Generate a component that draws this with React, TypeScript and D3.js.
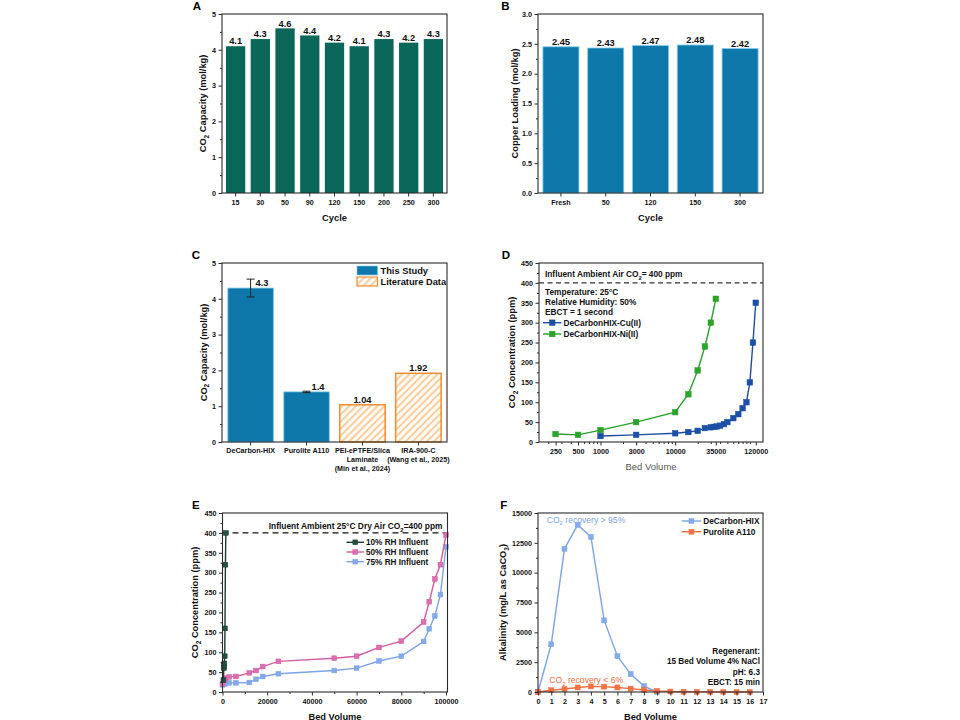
import * as d3 from 'd3';
import { useEffect, useRef } from 'react';

const FONT = '"Liberation Sans", Arial, Helvetica, sans-serif';
const PLOT_W = 225;
const PLOT_H = 179;
const AXIS = '#2b2b2b';

// ---- A: capacity over cycles ----
const cyclesA = ['15', '30', '50', '90', '120', '150', '200', '250', '300'];
const capacityA = [4.1, 4.3, 4.6, 4.4, 4.2, 4.1, 4.3, 4.2, 4.3];

// ---- B: copper loading ----
const cyclesB = ['Fresh', '50', '120', '150', '300'];
const copperB = [2.45, 2.43, 2.47, 2.48, 2.42];

// ---- C: sorbent comparison ----
const sorbentsC = ['DeCarbon-HIX', 'Purolite A110', 'PEI-ePTFE/Slica Laminate', 'IRA-900-C'];
const sorbentLinesC = [
    ['DeCarbon-HIX'],
    ['Purolite A110'],
    ['PEI-ePTFE/Slica', 'Laminate', '(Min et al., 2024)'],
    ['IRA-900-C', '(Wang et al., 2025)'],
];
const capacityC = [4.3, 1.4, 1.04, 1.92];
const labelC = ['4.3', '1.4', '1.04', '1.92'];
const errorC = [0.25, 0.02, 0, 0];
const isStudyC = [true, true, false, false];

// ---- D: breakthrough, Cu vs Ni ----
const bvCu = [1000, 3000, 10000, 15000, 20000, 25000, 30000, 33000, 36000, 40000, 45000, 50000, 60000, 70000, 80000, 90000, 100000, 110000, 120000];
const co2Cu = [15, 18, 22, 25, 28, 35, 37, 38, 39, 41, 45, 50, 60, 70, 85, 100, 150, 250, 350];
const bvNi = [250, 500, 1000, 3000, 10000, 15000, 20000, 25000, 30000, 35000];
const co2Ni = [20, 18, 30, 50, 75, 120, 180, 240, 300, 360];
const xTicksD = [250, 500, 1000, 3000, 10000, 35000, 120000];

// ---- E: humidity effect ----
const bv10 = [400, 600, 700, 800, 1000, 1100, 1300, 1500];
const co2RH10 = [30, 60, 65, 72, 90, 160, 320, 400];
const bv50 = [0, 1000, 1500, 3000, 6000, 12000, 15000, 18000, 25000, 50000, 60000, 70000, 80000, 90000, 92500, 95000, 97500, 100000];
const co2RH50 = [20, 30, 35, 38, 39, 48, 54, 64, 77, 85, 90, 112, 128, 176, 227, 284, 320, 395];
const bv75 = [0, 1000, 3000, 6000, 12000, 15000, 18000, 25000, 50000, 60000, 70000, 80000, 90000, 92500, 95000, 97500, 100000];
const co2RH75 = [18, 20, 23, 23, 24, 32, 39, 46, 54, 60, 78, 90, 127, 159, 191, 245, 365];

// ---- F: regeneration ----
const bvHix = [0, 1, 2, 3, 4, 5, 6, 7, 8, 9];
const alkHix = [0, 4000, 12000, 14000, 13000, 6000, 3000, 1500, 500, 0];
const bvA110 = [0, 1, 2, 3, 4, 5, 6, 7, 8, 9, 10, 11, 12, 13, 14, 15, 16];
const alkA110 = [0, 150, 250, 380, 470, 450, 380, 280, 170, 90, 40, 20, 10, 10, 0, 0, 0];

type Sel = d3.Selection<any, unknown, null, undefined>;
type Part = [string, boolean?];

// append text runs, with optional subscripts
const rich = (t: Sel, parts: Part[], fs: number) => {
    let shifted = false;
    parts.forEach(([s, sub]) => {
        const ts = t.append('tspan').text(s);
        if (sub) {
            ts.attr('font-size', fs * 0.7).attr('dy', fs * 0.3);
            shifted = true;
        } else if (shifted) {
            ts.attr('dy', -fs * 0.3);
            shifted = false;
        }
    });
    return t;
};

const label = (
    parent: Sel,
    x: number,
    y: number,
    parts: Part[] | string,
    fs: number,
    opts: { weight?: string; fill?: string; anchor?: string } = {}
) => {
    const t = parent
        .append('text')
        .attr('x', x)
        .attr('y', y)
        .attr('font-size', fs)
        .attr('font-weight', opts.weight ?? 'bold')
        .attr('fill', opts.fill ?? '#111')
        .attr('text-anchor', opts.anchor ?? 'start');
    return rich(t, typeof parts === 'string' ? [[parts]] : parts, fs);
};

const yTitle = (g: Sel, x: number, parts: Part[] | string, fs = 9.3) => {
    const t = g
        .append('text')
        .attr('transform', `translate(${x},${PLOT_H / 2}) rotate(-90)`)
        .attr('dy', '0.35em')
        .attr('text-anchor', 'middle')
        .attr('font-size', fs)
        .attr('font-weight', 'bold')
        .attr('fill', '#111');
    rich(t, typeof parts === 'string' ? [[parts]] : parts, fs);
};

const styleAxis = (ax: Sel) => {
    ax.attr('font-family', FONT);
    ax.select('.domain').remove();
    ax.selectAll('line').attr('stroke', AXIS);
    ax.selectAll('text').attr('font-size', 7.2).attr('font-weight', 'bold').attr('fill', '#111');
};

const leftAxis = (g: Sel, y: any, major: number[], minor: number[], fmt: (d: any) => string) => {
    g.append('g')
        .call(d3.axisLeft(y).tickValues(major).tickSize(3.5).tickPadding(2.5).tickFormat(fmt))
        .call(styleAxis);
    g.append('g')
        .call(d3.axisLeft(y).tickValues(minor).tickSize(2).tickFormat(() => ''))
        .call(styleAxis);
};

const bottomAxis = (g: Sel, x: any, major: any[] | null, minor: number[], fmt?: (d: any) => string) => {
    const ax = d3.axisBottom(x).tickSize(3.5).tickPadding(3);
    if (major) ax.tickValues(major);
    if (fmt) ax.tickFormat(fmt);
    g.append('g').attr('transform', `translate(0,${PLOT_H})`).call(ax).call(styleAxis);
    if (minor.length) {
        g.append('g')
            .attr('transform', `translate(0,${PLOT_H})`)
            .call(d3.axisBottom(x).tickValues(minor).tickSize(2).tickFormat(() => ''))
            .call(styleAxis);
    }
};

const frame = (g: Sel) => {
    g.append('rect')
        .attr('width', PLOT_W)
        .attr('height', PLOT_H)
        .attr('fill', 'none')
        .attr('stroke', AXIS)
        .attr('stroke-width', 1.1);
};

const series = (g: Sel, xs: number[], ys: number[], x: any, y: any, color: string, fill: string, size: number) => {
    const pts: [number, number][] = xs.map((v, i) => [x(v), y(ys[i])]);
    g.append('path')
        .attr('d', d3.line()(pts))
        .attr('fill', 'none')
        .attr('stroke', color)
        .attr('stroke-width', 1.4);
    g.append('g')
        .selectAll('rect')
        .data(pts)
        .join('rect')
        .attr('x', (d) => d[0] - size / 2)
        .attr('y', (d) => d[1] - size / 2)
        .attr('width', size)
        .attr('height', size)
        .attr('fill', fill)
        .attr('stroke', color)
        .attr('stroke-width', 0.5);
};

const legendEntry = (
    g: Sel,
    x1: number,
    x2: number,
    yc: number,
    color: string,
    fill: string,
    size: number,
    text: string,
    fs: number
) => {
    g.append('line').attr('x1', x1).attr('x2', x2).attr('y1', yc).attr('y2', yc).attr('stroke', color).attr('stroke-width', 1.4);
    g.append('rect')
        .attr('x', (x1 + x2) / 2 - size / 2)
        .attr('y', yc - size / 2)
        .attr('width', size)
        .attr('height', size)
        .attr('fill', fill)
        .attr('stroke', color)
        .attr('stroke-width', 0.5);
    label(g, x2 + 2, yc + fs * 0.36, text, fs);
};

const CO2: Part[] = [['CO'], ['2', true]];

const App = () => {
    const svgRef = useRef<SVGSVGElement | null>(null);

    useEffect(() => {
        if (!svgRef.current) return;
        const svg = d3.select(svgRef.current);
        svg.selectAll('*').remove();
        svg.attr('font-family', FONT);
        svg.append('rect').attr('width', 960).attr('height', 720).attr('fill', '#fff');

        const defs = svg.append('defs');
        const pat = defs
            .append('pattern')
            .attr('id', 'hatch')
            .attr('patternUnits', 'userSpaceOnUse')
            .attr('width', 5)
            .attr('height', 5)
            .attr('patternTransform', 'rotate(45)');
        pat.append('rect').attr('width', 5).attr('height', 5).attr('fill', '#fffaf2');
        pat.append('line').attr('x1', 1).attr('x2', 1).attr('y1', 0).attr('y2', 5).attr('stroke', '#f4b878').attr('stroke-width', 1.3);

        // panel letters
        const letters: [string, number, number][] = [
            ['A', 196.8, 9.5],
            ['B', 505.5, 9.5],
            ['C', 195.8, 258.5],
            ['D', 506, 259],
            ['E', 195.8, 508.5],
            ['F', 503.7, 508.5],
        ];
        letters.forEach(([s, x, y]) => label(svg, x, y, s, 11.5, { anchor: 'middle', fill: '#000' }));

        // ===== A =====
        {
            const g = svg.append('g').attr('transform', 'translate(222,14)');
            const x = d3.scaleBand().domain(cyclesA).range([0, PLOT_W]).paddingInner(0.22).paddingOuter(0.16);
            const y = d3.scaleLinear().domain([0, 5]).range([PLOT_H, 0]);
            g.selectAll('.bar')
                .data(capacityA)
                .join('rect')
                .attr('x', (_, i) => x(cyclesA[i])!)
                .attr('y', (d) => y(d))
                .attr('width', x.bandwidth())
                .attr('height', (d) => PLOT_H - y(d))
                .attr('fill', '#0c675b');
            capacityA.forEach((v, i) =>
                label(g, x(cyclesA[i])! + x.bandwidth() / 2, y(v) - 1.8, v.toFixed(1), 9.3, { anchor: 'middle' })
            );
            frame(g);
            leftAxis(g, y, [0, 1, 2, 3, 4, 5], [0.5, 1.5, 2.5, 3.5, 4.5], (d) => String(d));
            bottomAxis(g, x, null, []);
            label(g, PLOT_W / 2, PLOT_H + 28, 'Cycle', 9.3, { anchor: 'middle' });
            yTitle(g, -19, [['CO'], ['2', true], [' Capacity (mol/kg)']]);
        }

        // ===== B =====
        {
            const g = svg.append('g').attr('transform', 'translate(538,14)');
            const x = d3.scaleBand().domain(cyclesB).range([0, PLOT_W]).paddingInner(0.196).paddingOuter(0.11);
            const y = d3.scaleLinear().domain([0, 3]).range([PLOT_H, 0]);
            g.selectAll('.bar')
                .data(copperB)
                .join('rect')
                .attr('x', (_, i) => x(cyclesB[i])!)
                .attr('y', (d) => y(d))
                .attr('width', x.bandwidth())
                .attr('height', (d) => PLOT_H - y(d))
                .attr('fill', '#0f78aa')
                .attr('stroke', '#7cc8ec')
                .attr('stroke-width', 0.8);
            copperB.forEach((v, i) =>
                label(g, x(cyclesB[i])! + x.bandwidth() / 2, y(v) - 1.8, v.toFixed(2), 9.3, { anchor: 'middle' })
            );
            frame(g);
            leftAxis(
                g,
                y,
                [0, 0.5, 1, 1.5, 2, 2.5, 3],
                [0.25, 0.75, 1.25, 1.75, 2.25, 2.75],
                (d) => (d as number).toFixed(1)
            );
            bottomAxis(g, x, null, []);
            label(g, PLOT_W / 2, PLOT_H + 28, 'Cycle', 9.3, { anchor: 'middle' });
            yTitle(g, -23, 'Copper Loading (mol/kg)');
        }

        // ===== C =====
        {
            const g = svg.append('g').attr('transform', 'translate(222,263)');
            const x = d3.scaleBand().domain(sorbentsC).range([0, PLOT_W]).paddingInner(0.187).paddingOuter(0.105);
            const y = d3.scaleLinear().domain([0, 5]).range([PLOT_H, 0]);
            g.selectAll('.bar')
                .data(capacityC)
                .join('rect')
                .attr('x', (_, i) => x(sorbentsC[i])!)
                .attr('y', (d) => y(d))
                .attr('width', x.bandwidth())
                .attr('height', (d) => PLOT_H - y(d))
                .attr('fill', (_, i) => (isStudyC[i] ? '#0f78aa' : 'url(#hatch)'))
                .attr('stroke', (_, i) => (isStudyC[i] ? '#7cc8ec' : '#ef8d33'))
                .attr('stroke-width', (_, i) => (isStudyC[i] ? 0.8 : 1.5));
            capacityC.forEach((v, i) => {
                const cx = x(sorbentsC[i])! + x.bandwidth() / 2;
                if (errorC[i] > 0) {
                    const e = g.append('g').attr('stroke', '#222').attr('stroke-width', 1);
                    e.append('line').attr('x1', cx).attr('x2', cx).attr('y1', y(v - errorC[i])).attr('y2', y(v + errorC[i]));
                    [v - errorC[i], v + errorC[i]].forEach((b) =>
                        e.append('line').attr('x1', cx - 4).attr('x2', cx + 4).attr('y1', y(b)).attr('y2', y(b))
                    );
                    label(g, cx + 5, y(v) - 1.8, labelC[i], 9.3);
                } else {
                    label(g, cx, y(v) - 1.8, labelC[i], 9.3, { anchor: 'middle' });
                }
            });
            frame(g);
            leftAxis(g, y, [0, 1, 2, 3, 4, 5], [0.5, 1.5, 2.5, 3.5, 4.5], (d) => String(d));
            bottomAxis(g, x, null, [], () => '');
            sorbentLinesC.forEach((lines, i) => {
                const cx = x(sorbentsC[i])! + x.bandwidth() / 2;
                lines.forEach((s, j) => label(g, cx, PLOT_H + 11.3 + j * 8.8, s, 7.2, { anchor: 'middle' }));
            });
            yTitle(g, -18.7, [['CO'], ['2', true], [' Capacity (mol/kg)']]);
            // legend
            g.append('rect').attr('x', 135).attr('y', 3).attr('width', 20.5).attr('height', 9).attr('fill', '#0f78aa').attr('stroke', '#7cc8ec').attr('stroke-width', 0.6);
            g.append('rect').attr('x', 135).attr('y', 14).attr('width', 20.5).attr('height', 9).attr('fill', 'url(#hatch)').attr('stroke', '#ef8d33').attr('stroke-width', 1.2);
            label(g, 158.5, 10.8, 'This Study', 9.3);
            label(g, 158.5, 21.8, 'Literature Data', 9.3);
        }

        // ===== D =====
        {
            const g = svg.append('g').attr('transform', 'translate(539,263)');
            const x = d3.scaleLog().domain([150, 150000]).range([0, 224]);
            const y = d3.scaleLinear().domain([0, 450]).range([PLOT_H, 0]);
            g.append('line')
                .attr('x1', 0)
                .attr('x2', 224)
                .attr('y1', y(400))
                .attr('y2', y(400))
                .attr('stroke', '#333')
                .attr('stroke-width', 1.1)
                .attr('stroke-dasharray', '5,3.5');
            series(g, bvCu, co2Cu, x, y, '#1f4ea0', '#1c4fa8', 5.6);
            series(g, bvNi, co2Ni, x, y, '#2b9e2b', '#2aa52a', 5.6);
            g.append('rect').attr('width', 224).attr('height', PLOT_H).attr('fill', 'none').attr('stroke', AXIS).attr('stroke-width', 1.1);
            leftAxis(g, y, d3.range(0, 451, 50), d3.range(25, 450, 50), (d) => String(d));
            const minorD = x.ticks().filter((t) => !xTicksD.includes(t));
            bottomAxis(g, x, xTicksD, minorD, (d) => String(d));
            label(g, 112, PLOT_H + 27.5, 'Bed Volume', 9.5, { anchor: 'middle', weight: 'normal', fill: '#555' });
            yTitle(g, -27.3, [['CO'], ['2', true], [' Concentration (ppm)']]);
            label(g, 6, 14.3, [...CO2.slice(0, 0), ['Influent Ambient Air CO'], ['2', true], ['= 400 ppm']], 8.3);
            label(g, 6, 31.6, 'Temperature: 25°C', 8.3);
            label(g, 6, 41.6, 'Relative Humidity: 50%', 8.3);
            label(g, 6, 51.6, 'EBCT = 1 second', 8.3);
            legendEntry(g, 4, 22.5, 59.7, '#1f4ea0', '#1c4fa8', 5.6, 'DeCarbonHIX-Cu(II)', 8.3);
            legendEntry(g, 4, 22.5, 71, '#2b9e2b', '#2aa52a', 5.6, 'DeCarbonHIX-Ni(II)', 8.3);
        }

        // ===== E =====
        {
            const g = svg.append('g').attr('transform', 'translate(222.5,513)');
            const x = d3.scaleLinear().domain([0, 100000]).range([0, 223.5]);
            const y = d3.scaleLinear().domain([0, 450]).range([PLOT_H, 0]);
            g.append('line')
                .attr('x1', 0)
                .attr('x2', 223.5)
                .attr('y1', y(400))
                .attr('y2', y(400))
                .attr('stroke', '#111')
                .attr('stroke-width', 1.4)
                .attr('stroke-dasharray', '6,4');
            series(g, bv75, co2RH75, x, y, '#7ba3e6', '#84a9ea', 4.8);
            series(g, bv50, co2RH50, x, y, '#d35c9f', '#dc6db0', 4.8);
            series(g, bv10, co2RH10, x, y, '#1c3a2e', '#24503f', 4.8);
            g.append('rect').attr('width', PLOT_W).attr('height', PLOT_H).attr('fill', 'none').attr('stroke', AXIS).attr('stroke-width', 1.1);
            leftAxis(g, y, d3.range(0, 451, 50), d3.range(25, 450, 50), (d) => String(d));
            bottomAxis(g, x, d3.range(0, 100001, 20000), d3.range(10000, 100000, 20000), (d) => String(d));
            label(g, PLOT_W / 2, PLOT_H + 27.5, 'Bed Volume', 9.3, { anchor: 'middle' });
            yTitle(g, -27.5, [['CO'], ['2', true], [' Concentration (ppm)']]);
            label(g, 220, 16, [['Influent Ambient 25°C Dry Air CO'], ['2', true], ['=400 ppm']], 8.4, { anchor: 'end' });
            legendEntry(g, 124, 141.5, 29.3, '#1c3a2e', '#24503f', 4.8, '10% RH Influent', 8.2);
            legendEntry(g, 124, 141.5, 39, '#d35c9f', '#dc6db0', 4.8, '50% RH Influent', 8.2);
            legendEntry(g, 124, 141.5, 48.7, '#7ba3e6', '#84a9ea', 4.8, '75% RH Influent', 8.2);
        }

        // ===== F =====
        {
            const g = svg.append('g').attr('transform', 'translate(538,513)');
            const x = d3.scaleLinear().domain([0, 17]).range([0, PLOT_W]);
            const y = d3.scaleLinear().domain([0, 15000]).range([PLOT_H, 0]);
            series(g, bvHix, alkHix, x, y, '#7ca5e4', '#86abe8', 5);
            series(g, bvA110, alkA110, x, y, '#f26a3c', '#f47246', 5);
            frame(g);
            leftAxis(g, y, d3.range(0, 15001, 2500), d3.range(1250, 15000, 2500), (d) => String(d));
            bottomAxis(g, x, d3.range(0, 18), [], (d) => String(d));
            label(g, PLOT_W / 2, PLOT_H + 27.5, 'Bed Volume', 9.3, { anchor: 'middle' });
            yTitle(g, -35.3, [['Alkalinity (mg/L as CaCO'], ['3', true], [')']]);
            label(g, 8.7, 9.5, [['CO'], ['2', true], [' recovery > 95%']], 8.6, { weight: 'normal', fill: '#7ca5e4' });
            label(g, 11.3, 170.3, [['CO'], ['2', true], [' recovery < 6%']], 8.6, { weight: 'normal', fill: '#f26a3c' });
            legendEntry(g, 143.7, 163.2, 8, '#7ca5e4', '#86abe8', 5, 'DeCarbon-HIX', 8.3);
            legendEntry(g, 143.7, 163.2, 18.7, '#f26a3c', '#f47246', 5, 'Purolite A110', 8.3);
            const notes = ['Regenerant:', '15 Bed Volume 4% NaCl', 'pH: 6.3', 'EBCT: 15 min'];
            const noteY = [141, 151, 161.7, 172.3];
            notes.forEach((s, i) => label(g, 222, noteY[i], s, 8.2, { anchor: 'end' }));
        }
    }, []);

    return (
        <svg
            ref={svgRef}
            width={960}
            height={720}
            style={{ position: 'absolute', left: 0, top: 0, display: 'block' }}
        ></svg>
    );
};

export default App;
